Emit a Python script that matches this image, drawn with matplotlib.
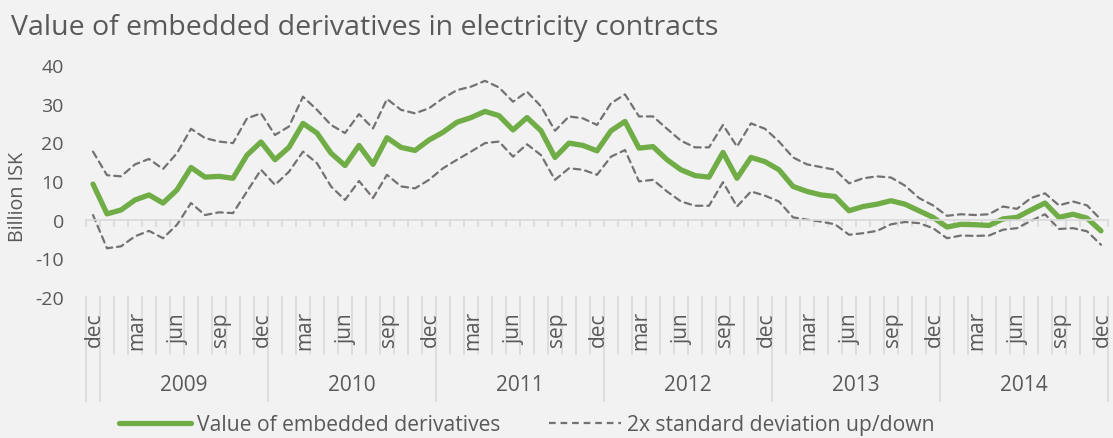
import numpy as np
import matplotlib
matplotlib.use('Agg')
import matplotlib.pyplot as plt
from matplotlib.lines import Line2D

plt.rcParams['font.family'] = ['Open Sans', 'DejaVu Sans']
plt.rcParams['axes.unicode_minus'] = False

# months dec 2008 .. dec 2014
months = ['jan', 'feb', 'mar', 'apr', 'may', 'jun',
          'jul', 'aug', 'sep', 'oct', 'nov', 'dec']
years = ['2009', '2010', '2011', '2012', '2013', '2014']
first_category = ('2008', 'dec')

# Billion ISK
value = [9.2, 1.5, 2.5, 5.1, 6.4, 4.3, 7.7, 13.5, 11.0, 11.2, 10.7, 16.7,
         20.1, 15.5, 18.7, 24.9, 22.4, 17.2, 14.0, 19.2, 14.3, 21.2, 18.7, 17.9,
         20.6, 22.6, 25.2, 26.4, 28.0, 26.9, 23.2, 26.4, 23.0, 16.1, 19.8, 19.2,
         17.8, 23.0, 25.4, 18.5, 18.9, 15.5, 12.9, 11.4, 11.0, 17.4, 10.7, 16.1,
         15.0, 12.9, 8.6, 7.3, 6.4, 6.0, 2.3, 3.4, 4.0, 4.9, 4.0, 2.3,
         0.6, -1.9, -1.2, -1.3, -1.5, 0.2, 0.6, 2.5, 4.3, 0.6, 1.4, 0.4, -2.9]
upper = [17.6, 11.5, 11.2, 14.3, 15.7, 13.1, 17.2, 23.5, 21.1, 20.2, 19.8, 26.2,
         27.5, 21.9, 24.1, 31.8, 28.4, 24.5, 22.4, 27.3, 23.6, 31.2, 28.4, 27.5,
         28.8, 31.4, 33.5, 34.4, 35.9, 34.2, 30.5, 33.1, 29.3, 23.0, 26.7, 26.2,
         24.5, 30.1, 32.4, 26.7, 26.7, 23.5, 20.4, 18.7, 18.7, 24.5, 18.9, 24.9,
         23.5, 20.2, 16.1, 14.3, 13.6, 12.9, 9.4, 10.7, 11.2, 10.9, 8.8, 5.6,
         3.7, 1.0, 1.4, 1.2, 1.4, 3.4, 2.8, 5.6, 6.8, 3.7, 4.7, 3.7, 0.0]
lower = [1.2, -7.4, -6.9, -4.3, -2.9, -4.8, -1.3, 4.3, 1.2, 1.9, 1.7, 7.3,
         12.9, 9.0, 12.4, 17.6, 14.6, 8.6, 5.1, 10.0, 5.6, 11.6, 8.6, 8.1,
         10.3, 13.3, 15.5, 17.6, 19.8, 20.2, 16.3, 19.5, 16.7, 10.3, 13.3, 12.9,
         11.6, 16.3, 18.0, 9.9, 10.3, 7.3, 4.7, 3.6, 3.6, 9.7, 3.4, 7.3,
         6.2, 4.7, 0.6, 0.0, -0.5, -1.2, -3.9, -3.5, -2.9, -1.2, -0.6, -0.9,
         -2.2, -4.8, -4.1, -4.2, -4.1, -2.6, -2.2, -0.3, 1.4, -2.4, -2.2, -3.0, -6.5]

title = 'Value of embedded derivatives in electricity contracts'
y_name = 'Billion ISK'
legend_names = ['Value of embedded derivatives', '2x standard deviation up/down']

BG = '#F2F2F2'
GREEN = '#70AD47'
DASH = '#767171'
TEXT = '#595959'
SEP = '#D9D9D9'
W, H = 1113, 439


def draw():
    categories = [first_category] + [(y, m) for y in years for m in months]
    n = len(categories)
    x = np.arange(n)

    fig = plt.figure(figsize=(W / 100, H / 100), dpi=100, facecolor=BG)
    ax = fig.add_axes([86 / W, 1 - 298 / H, (1108 - 86) / W, (298 - 66) / H])
    ax.set_facecolor(BG)

    ax.plot(x, upper, color=DASH, lw=1.6, dashes=(3, 2.2), dash_capstyle='round')
    ax.plot(x, lower, color=DASH, lw=1.6, dashes=(3, 2.2), dash_capstyle='round')
    ax.plot(x, value, color=GREEN, lw=3.8, solid_joinstyle='round',
            solid_capstyle='round')

    ax.set_xlim(-0.5, n - 0.5)
    ax.set_ylim(-20, 40)
    ax.set_yticks(range(-20, 41, 10))
    ax.tick_params(axis='y', length=0, pad=16, labelsize=14, labelcolor=TEXT)

    for s in ['left', 'right', 'top']:
        ax.spines[s].set_visible(False)
    ax.spines['bottom'].set_position(('data', 0))
    ax.spines['bottom'].set_color(SEP)
    ax.spines['bottom'].set_linewidth(1.2)
    ax.set_xticks(np.arange(n + 1) - 0.5)
    ax.tick_params(axis='x', direction='out', length=5, width=1.2, color=SEP,
                   labelbottom=False)

    # multi level category axis below the plot
    tr = ax.get_xaxis_transform()
    year_starts = [i for i in range(n) if i == 0 or categories[i][0] != categories[i - 1][0]]
    for b in range(n + 1):
        bottom = -0.448 if (b in year_starts or b == n) else -0.2457
        ax.plot([b - 0.5, b - 0.5], [0, bottom], color=SEP, lw=1.2,
                transform=tr, clip_on=False)
    for i in range(0, n, 3):
        ax.text(i + 0.1, -0.138, categories[i][1], rotation=90, ha='center', va='center',
                fontsize=15, color=TEXT, transform=tr)
    bounds = year_starts + [n]
    for a, b in zip(bounds[:-1], bounds[1:]):
        if b - a > 1:
            ax.text((a + b - 1) / 2, -0.379, categories[a][0], ha='center',
                    va='center', fontsize=15, color=TEXT, transform=tr)

    fig.text(11 / W, 1 - 34.5 / H, title, fontsize=20.5, color=TEXT, va='baseline')
    fig.text(18 / W, 1 - 197 / H, y_name, rotation=90, fontsize=14.2, color=TEXT,
             ha='center', va='center')

    handles = [Line2D([], [], color=GREEN, lw=3.8, solid_capstyle='round'),
               Line2D([], [], color=DASH, lw=1.6, dashes=(3, 2.2))]
    fig.legend(handles, legend_names, loc='center', bbox_to_anchor=(527 / W, 1 - 426 / H),
               ncol=2, frameon=False, fontsize=15.2, labelcolor=TEXT,
               handlelength=3.4, handletextpad=0.3, columnspacing=2.3)

    fig.savefig('out.png', dpi=100, facecolor=BG)


if __name__ == "__main__":
    draw()
